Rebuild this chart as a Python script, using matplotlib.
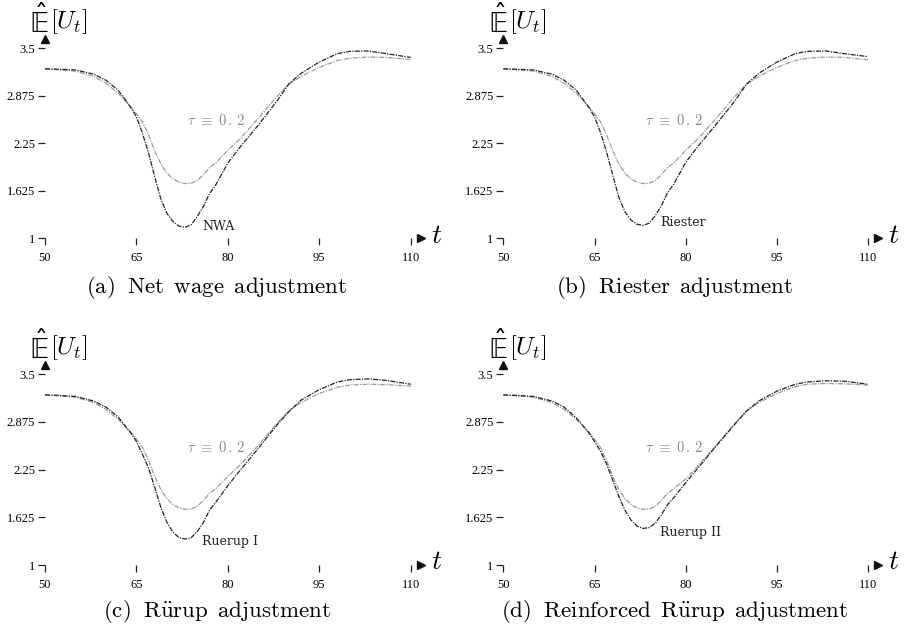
import matplotlib
matplotlib.use("Agg")
import matplotlib.pyplot as plt

plt.rcParams['mathtext.fontset'] = 'cm'
# used only by the y label, which asks for the 'custom' math fonts
plt.rcParams['mathtext.rm'] = 'DejaVu Sans'

# ages on the horizontal axis
ages = [50, 52, 55, 58, 60, 62, 64, 65, 66, 67, 68, 69, 70, 71, 72, 73, 74,
        75, 76, 77, 78, 80, 82, 85, 88, 90, 92, 95, 98, 100, 103, 106, 110]

# expected utility with tau fixed at 0.2 (grey reference curve)
tau_a = [3.23, 3.22, 3.20, 3.13, 3.04, 2.91, 2.74, 2.64, 2.53, 2.36, 2.15, 1.98, 1.86,
         1.78, 1.74, 1.72, 1.725, 1.76, 1.84, 1.93, 1.99, 2.16, 2.31, 2.58, 2.86, 3.03,
         3.13, 3.25, 3.34, 3.37, 3.385, 3.38, 3.35]
tau_b = [3.23, 3.22, 3.20, 3.13, 3.04, 2.91, 2.74, 2.64, 2.53, 2.36, 2.15, 1.98, 1.86,
         1.78, 1.74, 1.72, 1.725, 1.76, 1.84, 1.93, 1.99, 2.16, 2.31, 2.58, 2.86, 3.03,
         3.13, 3.25, 3.34, 3.37, 3.385, 3.38, 3.35]
tau_c = [3.23, 3.22, 3.20, 3.13, 3.04, 2.91, 2.75, 2.65, 2.54, 2.37, 2.16, 1.99, 1.87,
         1.79, 1.75, 1.73, 1.735, 1.77, 1.85, 1.94, 2.00, 2.16, 2.31, 2.57, 2.85, 3.02,
         3.13, 3.25, 3.33, 3.36, 3.37, 3.365, 3.345]
tau_d = [3.23, 3.22, 3.20, 3.13, 3.04, 2.91, 2.75, 2.65, 2.54, 2.37, 2.16, 1.99, 1.87,
         1.79, 1.75, 1.73, 1.735, 1.77, 1.85, 1.94, 2.00, 2.13, 2.30, 2.57, 2.85, 3.02,
         3.13, 3.25, 3.34, 3.37, 3.38, 3.375, 3.36]

# expected utility under each adjustment rule (dark curve)
nwa = [3.23, 3.225, 3.215, 3.16, 3.08, 2.95, 2.73, 2.60, 2.38, 2.12, 1.81, 1.52, 1.33,
       1.22, 1.16, 1.145, 1.18, 1.29, 1.42, 1.59, 1.70, 1.99, 2.20, 2.49, 2.80, 3.03,
       3.17, 3.32, 3.43, 3.46, 3.465, 3.43, 3.38]
riester = [3.23, 3.225, 3.215, 3.16, 3.08, 2.95, 2.73, 2.60, 2.39, 2.13, 1.83, 1.54, 1.35,
           1.24, 1.185, 1.17, 1.20, 1.30, 1.43, 1.60, 1.71, 2.00, 2.21, 2.50, 2.80, 3.03,
           3.17, 3.32, 3.43, 3.46, 3.465, 3.43, 3.39]
ruerup1 = [3.23, 3.225, 3.21, 3.15, 3.07, 2.94, 2.74, 2.62, 2.45, 2.27, 2.02, 1.76, 1.56,
           1.43, 1.36, 1.34, 1.36, 1.44, 1.56, 1.72, 1.82, 2.04, 2.24, 2.53, 2.83, 3.01,
           3.16, 3.30, 3.40, 3.43, 3.44, 3.42, 3.37]
ruerup2 = [3.23, 3.225, 3.21, 3.15, 3.07, 2.93, 2.74, 2.62, 2.49, 2.32, 2.11, 1.90, 1.72,
           1.59, 1.51, 1.48, 1.49, 1.55, 1.66, 1.79, 1.88, 2.08, 2.27, 2.56, 2.84, 3.02,
           3.15, 3.28, 3.37, 3.40, 3.415, 3.41, 3.37]

xticks = [50, 65, 80, 95, 110]
yticks = [1, 1.625, 2.25, 2.875, 3.5]
ytick_labels = ['1', '1.625', '2.25', '2.875', '3.5']

panels = [
    ([0.0497, 0.6211, 0.4041, 0.3021], nwa, tau_a, 'NWA', 1.16,
     r'$\mathrm{(a)\ \;Net\ \,wage\ \,adjustment}$', (0.2387, 0.5437)),
    ([0.5561, 0.6211, 0.4033, 0.3021], riester, tau_b, 'Riester', 1.205,
     r'$\mathrm{(b)\ \;Riester\ \,adjustment}$', (0.7448, 0.5437)),
    ([0.0497, 0.1017, 0.4041, 0.3032], ruerup1, tau_c, 'Ruerup I', 1.31,
     r'$\mathrm{(c)\ \;R\ddot{u}rup\ \,adjustment}$', (0.2394, 0.0275)),
    ([0.5561, 0.1017, 0.4033, 0.3032], ruerup2, tau_d, 'Ruerup II', 1.42,
     r'$\mathrm{(d)\ \;Reinforced\ \,R\ddot{u}rup\ \,adjustment}$', (0.7458, 0.0275)),
]

fig = plt.figure(figsize=(9.05, 6.29), dpi=100)

for rect, dark, grey, name, name_y, caption, cap_xy in panels:
    ax = fig.add_axes(rect)
    ax.plot(ages, grey, color='#9a9a9a', lw=0.9, ls=(0, (4, 1, 1, 1)))
    ax.plot(ages, dark, color='#222222', lw=0.9, ls=(0, (4, 1, 1, 1)))
    ax.set_xlim(50, 110)
    ax.set_ylim(1, 3.5)
    for s in ax.spines.values():
        s.set_visible(False)
    ax.set_xticks(xticks)
    ax.set_xticklabels([str(t) for t in xticks], fontfamily='Liberation Serif', fontsize=9)
    ax.set_yticks(yticks)
    ax.set_yticklabels(ytick_labels, fontfamily='Liberation Serif', fontsize=9)
    ax.tick_params(axis='x', direction='out', length=5, width=0.9, pad=5, color='#222')
    ax.tick_params(axis='y', direction='out', length=5, width=0.9, pad=2, color='#222')

    # arrow heads at the ends of both axes
    ax.plot([1.027], [0], marker='>', ms=6, color='#111', transform=ax.transAxes, clip_on=False)
    ax.plot([0], [1.05], marker='^', ms=6, color='#111', transform=ax.transAxes, clip_on=False)
    ax.text(1.055, 0.02, r'$t$', transform=ax.transAxes, fontsize=20, ha='left', va='center')

    # y label: double-struck E with a hat, then [U_t]
    ax.text(-0.043, 1.14, '$\\hat{\\mathrm{\U0001D53C}}$', transform=ax.transAxes,
            fontsize=19, ha='left', va='center', math_fontfamily='custom')
    ax.text(0.015, 1.14, r'$[U_t]$', transform=ax.transAxes,
            fontsize=18, ha='left', va='center')

    ax.text(73.3, 2.545, r'$\tau\ \equiv\ 0\,.\,2$', color='#888888', fontsize=10.5,
            ha='left', va='center')
    ax.text(75.8, name_y, name, fontfamily='DejaVu Serif', fontsize=9,
            color='#222', ha='left', va='center')

    fig.text(cap_xy[0], cap_xy[1], caption, fontsize=16.5, ha='center', va='center')

fig.savefig('out.png', dpi=100)
